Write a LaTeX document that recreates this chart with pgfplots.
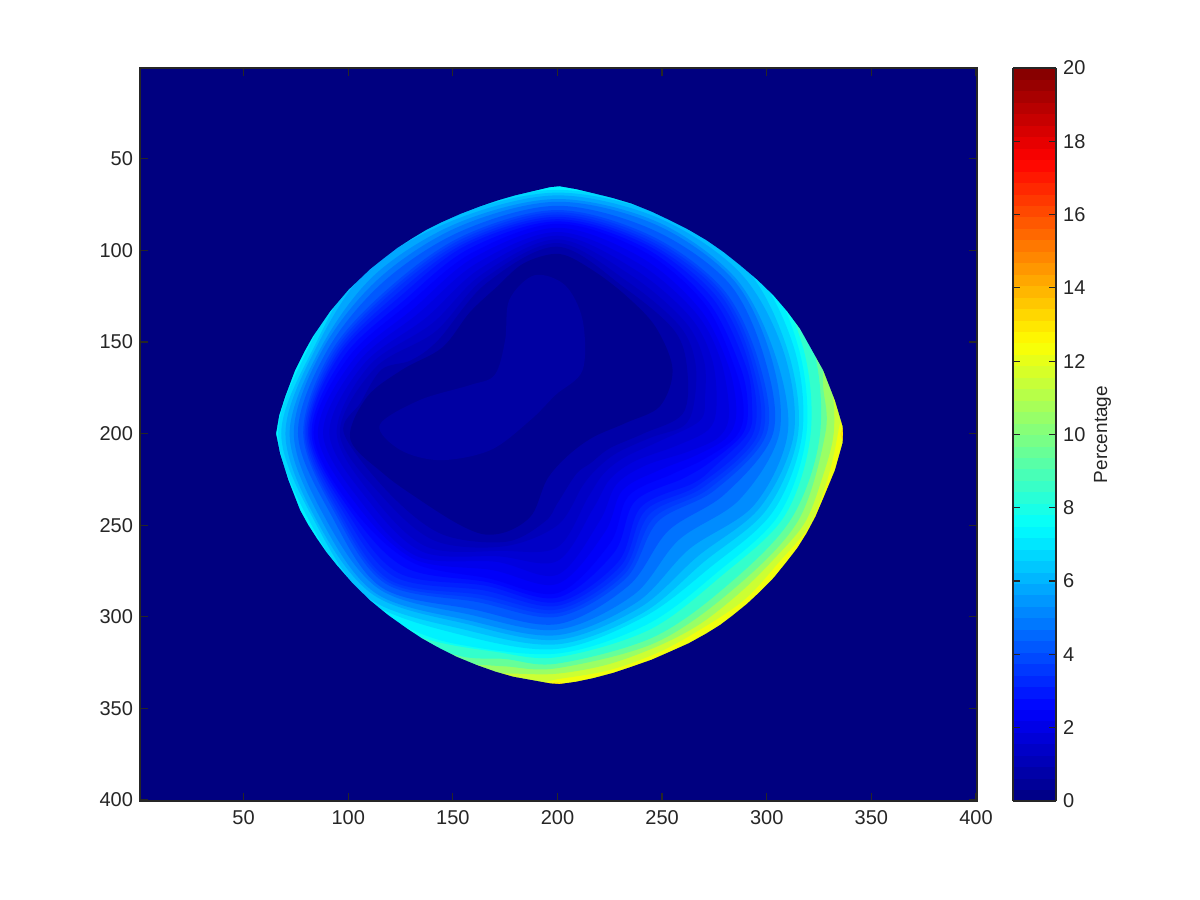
\documentclass[border=0pt]{standalone}
\usepackage{fontspec}
\setmainfont{Liberation Sans}
\usepackage{pgfplots}
\pgfplotsset{compat=1.18}
\definecolor{dk}{rgb}{0.15,0.15,0.15}
\definecolor{navybg}{rgb}{0,0,0.5}
\pgfplotsset{colormap/jet}
\pgfplotsset{
  band/.style n args={3}{draw=none,fill={rgb,1:red,#1;green,#2;blue,#3},smooth cycle,tension=0.55,no markers,forget plot},
  colormap={jet64}{samples of colormap=(64 of jet)}
}
\begin{document}
\begin{tikzpicture}
\useasboundingbox (0,0) rectangle (600pt,450pt);
\fill[white] (0,0) rectangle (600pt,450pt);
\begin{axis}[
  at={(70pt,49.5pt)},anchor=south west,
  scale only axis,width=418.5pt,height=366.5pt,
  xmin=0.5,xmax=400.5,ymin=0.5,ymax=400.5,y dir=reverse,
  axis on top,
  axis background/.style={fill=navybg},
  axis line style={draw=dk,line width=0.9pt},
  tick align=inside,
  tick style={draw=dk,line width=0.6pt},
  major tick length=4pt,
  xtick={50,100,...,400},ytick={50,100,...,400},
  /pgf/number format/assume math mode=true,
  tick label style={font=\fontsize{10}{12}\selectfont,text=dk},
  xticklabel style={yshift=-1pt},
  colormap name=jet64,
  point meta min=0,point meta max=20,
  colorbar sampled,
  colorbar style={
    samples=65,
    at={(parent axis.south east)},anchor=south west,xshift=9.5pt,
    scale only axis,width=21.5pt,height=366.5pt,
    ymin=0,ymax=20,ytick={0,2,...,20},
    axis line style={draw=dk,line width=0.9pt},
    tick align=inside,
    tick style={draw=dk,line width=0.6pt},
    major tick length=3.5pt,
    /pgf/number format/assume math mode=true,
    tick label style={font=\fontsize{10}{12}\selectfont,text=dk},
    ylabel={Percentage},
    ylabel shift=-2.5pt,
    ylabel style={font=\fontsize{9.5}{11}\selectfont,text=dk},
    axis on top,
  },
]
\addplot[draw=none,fill={rgb,1:red,1;green,0.9;blue,0},no markers,forget plot] coordinates {(0,0)(401,0)(401,401)(0,401)(0,0)};
\addplot[band={0.94}{1}{0.06}] coordinates {(335.2,200)(339,214)(331,240)(326,256)(298,298)(254,326)(215,339)(200,335.7)(185,339)(146,326)(104,296)(75,252)(58,200)(75,147)(104,104)(147,74)(200,58)(253,74)(296,104)(326,146)(339,187)};
\addplot[band={0.8}{1}{0.2}] coordinates {(334,200)(329,225)(320.5,250)(306,270)(290,290)(271,305)(249,319)(225,329)(200,334)(185,336)(146,326)(104,296)(75,252)(58,200)(75,147)(104,104)(147,74)(200,58)(253,74)(296,104)(326,146)(336,178)};
\addplot[band={0.6}{1}{0.4}] coordinates {(332,200)(326,226)(318,249)(303,269)(287,287)(268,304)(248,316)(224,326)(200,331)(180,331)(160,330)(146,326)(104,296)(75,252)(58,200)(75,147)(104,104)(147,74)(200,58)(253,74)(296,104)(326,146)(331,172)};
\addplot[band={0.4}{1}{0.6}] coordinates {(328,200)(315,247.6)(284.5,284.5)(247,314)(200,328)(175,327)(160,326)(146,326)(104,296)(75,252)(58,200)(75,147)(104,104)(147,74)(200,58)(253,74)(296,104)(324,148)(327,175)};
\addplot[band={0.2}{1}{0.8}] coordinates {(325.5,200)(312,246)(282,282)(246,311)(200,325.5)(175,323)(149,320)(104,296)(75,252)(58,200)(75,147)(104,104)(147,74)(200,58)(253,74)(296,104)(321,149)};
\addplot[band={0.05}{1}{0.95}] coordinates {(321,200)(308.5,245)(278,278)(244,307)(200,322)(170,319)(137,312)(104,296)(75,252)(58,200)(75,147)(104,104)(147,74)(200,58)(253,74)(296,104)(317,151.6)};
\addplot[band={0}{0.95}{1}] coordinates {(319,200)(306,244)(276,276)(243,304)(200,320)(152.4,315)(126,305)(107,293)(80,249.7)(62,200)(78,149)(104,104)(147,74)(200,60)(253,74)(295,105)(315,152.4)};
\addplot[band={0}{0.85}{1}] coordinates {(317,200)(303,242.6)(273,273)(241.4,300)(200,317.5)(154.5,310)(109,291)(82,248.9)(66.5,200)(82,151)(106,106)(150,79)(200,67)(250,79)(292,108)(313,153)};
\addplot[band={0}{0.75}{1}] coordinates {(315,200)(300,241.4)(270,270)(240.6,298)(200,315)(155.7,307)(110,290)(84,248)(68,200)(84,152)(108,108)(150.7,81)(200,68.5)(249.5,80.5)(290,110)(310,154.5)};
\addplot[band={0}{0.65}{1}] coordinates {(313,200)(297,240)(267,267)(239.3,295)(200,312.5)(157,304)(112,288)(85,247.6)(70,200)(85,152.4)(110,110)(151.6,83)(200,70)(248.6,82.5)(287.5,112.5)(308,155)};
\addplot[band={0}{0.55}{1}] coordinates {(310,200)(294,239)(263,263)(238,292)(200,310)(157.8,302)(113,287)(87,246.8)(72,200)(87,153)(113,113)(152.4,85)(200,72)(247.8,84.5)(285,115)(304,157)};
\addplot[band={0}{0.45}{1}] coordinates {(306,200)(287,236)(258,258)(236.4,288)(200,307)(159,299)(115,285)(89,246)(74,200)(88,153.6)(115,115)(153,87)(200,73.5)(247,86)(284,116)(302,157.8)};
\addplot[band={0}{0.35}{1}] coordinates {(303,200)(280,233)(253,253)(234,283)(200,304)(160,296)(116,284)(92,244.7)(76,200)(90,154.5)(117,117)(154,89.5)(200,75.7)(246,89)(282,118)(299,159)};
\addplot[band={0}{0.275}{1}] coordinates {(300,200)(275,231)(248,248)(232.7,279)(200,300)(162,292)(118,282)(94,244)(78.5,200)(92,155)(120,120)(155,92)(200,78)(244.7,92)(279,121)(296,160)};
\addplot[band={0}{0.225}{1}] coordinates {(298,200)(272.5,230)(246,246)(231.8,277)(200,298)(162.8,290)(119,281)(95,243.5)(79.2,200)(93,155.5)(121,121)(155.5,93.2)(200,79.2)(244.2,93.2)(278,122)(294.5,160.7)};
\addplot[band={0}{0.175}{1}] coordinates {(296,200)(270,229)(244,244)(231,275)(200,296)(163.6,288)(120,280)(96,243)(80,200)(94,156)(122,122)(156,94.5)(200,80.5)(243.7,94.5)(277,123)(293,161.5)};
\addplot[band={0}{0.125}{1}] coordinates {(293.5,200)(267.5,228)(242,242)(230,272.5)(200,294)(164.6,285.5)(122,278)(97.5,242.5)(80.8,200)(95,156.5)(123.5,123.5)(156.5,95.7)(200,81.7)(243,95.7)(275.5,124.5)(291.5,162)};
\addplot[band={0}{0.075}{1}] coordinates {(291,200)(275,218)(265,227)(240,240)(229,270)(200,292)(165.6,283)(124,276)(99,242)(81.5,200)(96,157)(125,125)(157,97)(200,83)(242.6,97)(274,126)(290,163)(293,185)};
\addplot[band={0}{0.025}{1}] coordinates {(288,201)(272.5,216)(260,224.5)(237,237)(227,265)(200,289.5)(166.3,281)(127,273)(100.5,241.3)(82.5,200)(98,157.8)(127,127)(158,99)(200,84.2)(241.8,98.7)(272,128)(287.5,164)(291,186.5)};
\addplot[band={0}{0}{0.975}] coordinates {(285,202)(270,214)(255,222)(234,234)(225,260)(200,287)(167,279)(130,270)(102,240.6)(83.5,200)(100,158.6)(129,129)(159,101.5)(200,85.5)(241,100.5)(270.5,129.5)(285,165)(289,188)};
\addplot[band={0}{0}{0.925}] coordinates {(281,202)(266,212)(248.5,220)(231,231)(222.5,254)(200,282)(169,274.5)(131.5,268.5)(104.5,239.5)(85.5,200)(102.5,159.6)(131.5,131.5)(160,104)(200,87.7)(239.7,103.7)(268,132)(281.5,162.5)(285.5,188)};
\addplot[band={0}{0}{0.875}] coordinates {(277,202)(262,210)(242,217.4)(228,228)(220,248)(200,277)(171,270)(133,267)(107,238.5)(88,200)(105,160.7)(134,134)(161.5,107)(200,90)(238.5,107)(266,134)(278,160)(282,189)};
\addplot[band={0}{0}{0.825}] coordinates {(272,198)(256,207)(237,215)(225,225)(217,241)(200,269.5)(172,267)(135.5,264.5)(110,237)(91,200)(107.5,162)(137,137)(163,110)(200,92)(237,110.5)(263.5,136.5)(274,160)(276,185)};
\addplot[band={0}{0}{0.775}] coordinates {(249,204)(232,213)(222,222)(214.5,235)(200,262)(173.5,264)(138,262)(113,236)(94.5,200)(110,163)(140,140)(164,113)(200,94)(235.6,114)(261,139)(270,160)(270.5,180)(268,193)};
\addplot[band={0}{0}{0.725}] coordinates {(245,202)(228.5,210.5)(219,219)(212,228.5)(200,250)(174.5,261.5)(141.5,258.5)(116.5,234.5)(96,200)(113,164)(141.5,144.5)(165,115.5)(200,96)(234,117.5)(258.5,141.5)(266,162)(265,185)(260,196)};
\addplot[band={0}{0}{0.66}] coordinates {(241,200)(225,208)(216,216)(209,222)(200,238)(194,248)(175.6,259)(145,255)(120,233)(98,200)(106,183)(116,165)(130,160)(143,149)(166,118)(200,98)(232.7,121)(256,144)(262,165)(260,189)};
\addplot[band={0}{0}{0.57}] coordinates {(101,203)(109,180)(126,165)(145,153)(158,134)(171,120)(184,107)(201,102)(217,111)(233,125)(247,142)(255,165)(249,185)(233,194)(217,202)(205,212)(195,225)(188,244)(177,253)(165,255)(152,249)(134,236)(117,222)};
\addplot[band={0}{0}{0.64}] coordinates {(115,195.4)(134,181.8)(158,173.6)(170,168)(175,149)(177,127)(189,113.6)(203.6,119)(212,138)(212,165.4)(199,179)(187,192.7)(168,209)(144,214.5)(125,209)};
\addplot[draw=none,fill=navybg,even odd rule,no markers,forget plot] coordinates {(0,0)(401,0)(401,401)(0,401)(0,0)(0,200)(65.5,200)(67,190)(69.8,180)(74.6,165.4)(79.4,154.5)(83.1,147)(87.3,140)(91.4,133.2)(96,127)(100.2,121.4)(104.8,116.4)(110.6,110.1)(116.8,104.5)(123.4,98.7)(130.3,93.6)(137.3,88.8)(144.7,84.6)(153.8,80)(163,76)(171.5,72.7)(179.7,70)(196.4,65.5)(201,65)(209,66.6)(217.1,68.8)(226.4,71.4)(235.5,74.5)(244.9,78.8)(253.8,83.6)(262.8,88.8)(271.3,94.5)(279.5,101)(287.2,108)(295.5,116)(303.2,124.5)(309.8,133.3)(315.9,142.7)(327,165.4)(332.6,181.8)(336.3,196)(336.5,200)(336.3,205)(332.6,220)(327,235.4)(323.3,245.3)(319,254.5)(314.6,262.5)(309.5,270)(303.5,278.5)(296.8,286.3)(290.6,292.9)(284,299)(277.9,304.3)(271.3,309)(262.8,314.4)(253.8,319)(245,323.4)(236,327)(226.6,330.6)(217,333.5)(209,335.4)(201,336.7)(196.4,336.3)(178.9,332.7)(170.3,329.9)(161.4,326.3)(151.6,321.7)(142.3,316.3)(135,311.6)(128,306.3)(119,299)(110.4,291)(102.2,281.8)(94.5,271.8)(89.6,264.8)(85,257.2)(80.8,249.7)(77,241.8)(71.4,225.4)(67.4,210.8)(65.5,200)(0,200)(0,0)};
\end{axis}
\end{tikzpicture}
\end{document}
